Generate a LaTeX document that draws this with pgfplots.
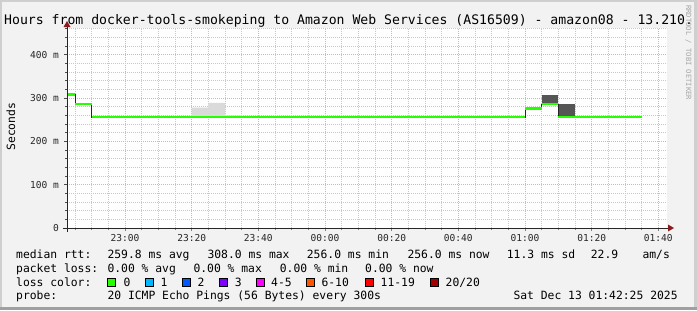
\documentclass[border=0pt]{standalone}
\usepackage{pgfplots}
\pgfplotsset{compat=1.18}
\usepackage{pgfplotstable}
\usepackage{fontspec}
\setmainfont{DejaVu Sans Mono}
\definecolor{bgc}{HTML}{F2F2F2}
\definecolor{shadeA}{HTML}{CFCFCF}
\definecolor{shadeB}{HTML}{A0A0A0}
\definecolor{lc0}{HTML}{26FF00}
\definecolor{lc1}{HTML}{00B8FF}
\definecolor{lc2}{HTML}{0059FF}
\definecolor{lc3}{HTML}{7E00FF}
\definecolor{lc4}{HTML}{FF00FF}
\definecolor{lc5}{HTML}{FF5500}
\definecolor{lc6}{HTML}{FF0000}
\definecolor{lc7}{HTML}{A10000}
\definecolor{mgrid}{HTML}{F0A8A8}
\definecolor{ngrid}{HTML}{C8C8C8}
\definecolor{arrowc}{HTML}{8B1A1A}
\definecolor{smokeL}{HTML}{DADADA}
\definecolor{smokeD}{HTML}{555555}

% minutes relative to 23:00, median rtt in ms
\pgfplotstableread{
x y
-17.4 308
-15 286
-10 256
120 276
125 286
130 256
155 256
}\median
\pgfplotstableread{
x y
-17.4 308
-15 308
nan nan
-15 286
-10 286
nan nan
-10 256
120 256
nan nan
120 276
125 276
nan nan
125 286
130 286
nan nan
130 256
155 256
}\mediansegs

\begin{document}
\begin{tikzpicture}[x=1bp,y=1bp]
\fill[bgc] (0,0) rectangle (697,310);
\useasboundingbox (0,0) rectangle (697,310);
\fill[shadeA] (0,308) rectangle (697,310);
\fill[shadeA] (0,0) rectangle (2,310);
\fill[shadeA] (694,3) rectangle (697,310);
\fill[shadeB] (0,0) rectangle (697,3);
\begin{axis}[
  at={(67bp,82bp)}, anchor=south west,
  scale only axis, width=600bp, height=200bp,
  xmin=-17.4, xmax=162.6, ymin=0, ymax=461.5,
  axis line style={draw=none},
  axis background/.style={fill=white},
  xtick={0,20,...,160},
  xticklabels={23:00,23:20,23:40,00:00,00:20,00:40,01:00,01:20,01:40},
  minor xtick={-15,-10,-5,5,10,15,25,30,35,45,50,55,65,70,75,85,90,95,105,110,115,125,130,135,145,150,155},
  ytick={0,100,200,300,400},
  yticklabels={0,100 m,200 m,300 m,400 m},
  minor ytick={20,40,60,80,120,140,160,180,220,240,260,280,320,340,360,380,420,440,460},
  grid=both,
  major grid style={draw=mgrid, dash pattern=on 1bp off 1bp, line width=0.8bp},
  minor grid style={draw=ngrid, dash pattern=on 1bp off 1bp, line width=0.8bp},
  tick align=outside, tick pos=left,
  major tick length=3bp, minor tick length=2bp,
  xtick style={draw=gray, line width=0.8bp},
  ytick style={draw=black!70, line width=0.8bp},
  ticklabel style={font=\fontsize{9.6}{10}\selectfont, text=black!85},
  xticklabel style={anchor=base, inner sep=0pt},
  xticklabel shift={10bp},
  yticklabel style={anchor=east, inner sep=0pt},
  yticklabel shift={5bp},
  clip=true,
]
\addplot[fill=smokeL, draw=none] coordinates {(20,256) (20,278) (25,278) (25,289) (30,289) (30,260) (35,260) (35,256)} -- cycle;
\addplot[fill=smokeD, draw=none] coordinates {(125,286) (125,307) (130,307) (130,286)} -- cycle;
\addplot[fill=smokeD, draw=none] coordinates {(130,256) (130,286) (135,286) (135,256)} -- cycle;
\addplot[const plot, draw=black!85, line width=1bp] table {\median};
\addplot[draw=lc0, line width=2.6bp, line cap=butt, unbounded coords=jump] table {\mediansegs};
\end{axis}
% axes with arrows
\draw[line width=1bp, black!85] (63,82) -- (669,82);
\fill[arrowc] (668,78.5) -- (674,82) -- (668,85.5) -- cycle;
\draw[line width=1bp, black!85] (67,78) -- (67,284);
\fill[arrowc] (63.5,283) -- (67,289) -- (70.5,283) -- cycle;
% title
\node[anchor=base west, inner sep=0, font=\fontsize{13.2}{14}\selectfont] at (4,286) {Hours from docker-tools-smokeping to Amazon Web Services (AS16509) - amazon08 - 13.210.};
% y label
\node[rotate=90, anchor=base, inner sep=0, font=\fontsize{11.4}{12}\selectfont] at (15,183.3) {Seconds};
% watermark
\node[rotate=-90, anchor=base west, inner sep=0, text=black!35, font=\fontsize{7.2}{8}\selectfont] at (686,305) {RRDTOOL / TOBI OETIKER};
% legend
\begin{scope}[every node/.style={anchor=base west, inner sep=0, font=\fontsize{11.4}{12}\selectfont}]
\node at (16,51.7) {median rtt:};
\node at (107.3,51.7) {259.8 ms avg};
\node at (207.3,51.7) {308.0 ms max};
\node at (306.7,51.7) {256.0 ms min};
\node at (407.3,51.7) {256.0 ms now};
\node at (506.7,51.7) {11.3 ms sd};
\node at (590.7,51.7) {22.9};
\node at (642.3,51.7) {am/s};
\node at (16,37.8) {packet loss:};
\node at (107.3,37.8) {0.00 \% avg};
\node at (193.3,37.8) {0.00 \% max};
\node at (279.7,37.8) {0.00 \% min};
\node at (365,37.8) {0.00 \% now};
\node at (16,24) {loss color:};
\node at (123.3,24) {0};
\node at (160.5,24) {1};
\node at (197.3,24) {2};
\node at (234.7,24) {3};
\node at (271,24) {4-5};
\node at (321.3,24) {6-10};
\node at (380.5,24) {11-19};
\node at (445.5,24) {20/20};
\node at (16,10.2) {probe:};
\node at (107.3,10.2) {20 ICMP Echo Pings (56 Bytes) every 300s};
\node at (513.3,10.2) {Sat Dec 13 01:42:25 2025};
\end{scope}
\foreach \xx/\cc in {107.5/lc0,145/lc1,182/lc2,219/lc3,256/lc4,306.7/lc5,365.7/lc6,430.7/lc7}{
  \filldraw[fill=\cc, draw=black, line width=0.8bp] (\xx,23.5) rectangle ++(8,8);
}
\end{tikzpicture}
\end{document}
